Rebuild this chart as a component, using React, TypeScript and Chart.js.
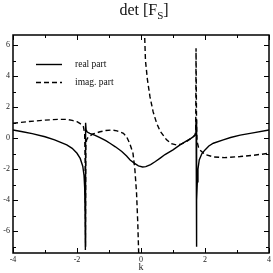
import React, { useEffect, useRef } from 'react';
import { Chart, registerables } from 'chart.js';
Chart.register(...registerables);

const realK = [-4.0, -3.7, -3.4, -3.0, -2.7, -2.32, -2.15, -2.0, -1.9, -1.82, -1.78, -1.76, -1.745, -1.735,
  -1.728, -1.715, -1.68, -1.6, -1.45, -1.3, -1.1, -0.97, -0.8, -0.6, -0.45, -0.34, -0.2, -0.08, 0.05, 0.15,
  0.3, 0.45, 0.6, 0.75, 1.0, 1.22, 1.4, 1.55, 1.65, 1.7, 1.715, 1.722, 1.73, 1.745, 1.76, 1.78, 1.82, 1.9,
  2.0, 2.12, 2.26, 2.57, 2.8, 3.1, 3.5, 4.0];
const realV = [0.53, 0.42, 0.3, 0.1, -0.1, -0.43, -0.65, -0.97, -1.3, -1.8, -2.4, -3.2, -4.8, -7.0,
  1.0, 0.55, 0.4, 0.32, 0.2, 0.05, -0.15, -0.32, -0.55, -0.85, -1.15, -1.4, -1.62, -1.78, -1.85, -1.83,
  -1.7, -1.5, -1.28, -1.05, -0.75, -0.43, -0.2, -0.02, 0.12, 0.25, 0.6, 1.2, -7.0, -4.0, -2.8, -2.0, -1.4, -1.0,
  -0.75, -0.5, -0.32, -0.1, 0.05, 0.2, 0.35, 0.53];

const imagK = [-4.0, -3.5, -3.0, -2.6, -2.32, -2.15, -2.0, -1.9, -1.8, -1.76, -1.745, -1.738,
  -1.725, -1.7, -1.65, -1.5, -1.28, -1.1, -0.92, -0.75, -0.55, -0.45, -0.35, -0.25, -0.19, -0.14, -0.1, -0.07,
  0.0,
  0.1, 0.14, 0.2, 0.28, 0.38, 0.49, 0.6, 0.8, 0.95, 1.1, 1.25, 1.43, 1.6, 1.69, 1.71, 1.72, 1.735, 1.75, 1.8,
  1.84, 2.0, 2.26, 2.6, 3.1, 3.5, 4.0];
const imagV: (number | null)[] = [0.97, 1.08, 1.17, 1.22, 1.22, 1.15, 1.07, 0.95, 0.75, 0.3, -1.5, -7.2,
  -0.5, -0.1, 0.08, 0.28, 0.42, 0.5, 0.53, 0.48, 0.32, 0.1, -0.35, -0.97, -2.05, -3.5, -5.5, -7.6,
  null,
  7.5, 5.0, 3.8, 2.68, 1.7, 0.97, 0.45, -0.1, -0.35, -0.43, -0.38, -0.2, 0.05, 0.2, 0.6, 5.8, 1.0, -0.2, -0.6,
  -0.75, -1.05, -1.2, -1.25, -1.18, -1.1, -0.97];

const xTickLabels = [-4, -2, 0, 2, 4];
const yTickLabels = [-6, -4, -2, 0, 2, 4, 6];
const xMinorTicks = [-4, -3, -2, -1, 0, 1, 2, 3, 4];
const yMinorTicks = [-7, -6, -5, -4, -3, -2, -1, 0, 1, 2, 3, 4, 5, 6];

const framePlugin = {
  id: 'frame',
  afterDatasetsDraw(chart: any) {
    const { ctx, chartArea } = chart;
    const { left, right, top, bottom } = chartArea;
    const xs = chart.scales.x;
    const ys = chart.scales.y;
    ctx.save();
    ctx.strokeStyle = '#000';
    ctx.lineWidth = 1;
    ctx.beginPath();
    for (const v of xMinorTicks) {
      const px = Math.round(xs.getPixelForValue(v)) + 0.5;
      const len = xTickLabels.includes(v) ? 5 : 3;
      ctx.moveTo(px, bottom); ctx.lineTo(px, bottom - len);
      ctx.moveTo(px, top); ctx.lineTo(px, top + len);
    }
    for (const v of yMinorTicks) {
      const py = Math.round(ys.getPixelForValue(v)) + 0.5;
      const len = yTickLabels.includes(v) ? 5 : 3;
      ctx.moveTo(left, py); ctx.lineTo(left + len, py);
      ctx.moveTo(right, py); ctx.lineTo(right - len, py);
    }
    ctx.stroke();
    ctx.lineWidth = 1.5;
    ctx.strokeRect(left, top, right - left, bottom - top);
    ctx.restore();
  },
};

export default function App() {
  const ref = useRef<HTMLCanvasElement>(null);
  useEffect(() => {
    if (!ref.current) return;
    const chart = new Chart(ref.current, {
      type: 'line',
      data: {
        datasets: [
          {
            label: 'real part',
            data: realK.map((k, i) => ({ x: k, y: realV[i] })),
            borderColor: '#000',
            borderWidth: 1.4,
            pointRadius: 0,
            tension: 0,
            spanGaps: false,
          },
          {
            label: 'imag. part',
            data: imagK.map((k, i) => ({ x: k, y: imagV[i] as any })),
            borderColor: '#000',
            borderWidth: 1.4,
            borderDash: [5, 3],
            pointRadius: 0,
            tension: 0,
            spanGaps: false,
          },
        ],
      },
      options: {
        responsive: false,
        animation: false,
        layout: { padding: { top: 35, right: 4, left: 0, bottom: 0 } },
        plugins: { legend: { display: false }, tooltip: { enabled: false }, title: { display: false } },
        scales: {
          x: {
            type: 'linear',
            min: -4,
            max: 4,
            grid: { display: false, drawTicks: false },
            border: { display: false },
            afterBuildTicks: (s: any) => { s.ticks = xTickLabels.map((v) => ({ value: v })); },
            afterFit: (s: any) => { s.height = 20; },
            ticks: { padding: 2, color: '#222', font: { family: 'Liberation Serif', size: 8 }, maxRotation: 0, callback: (v: any) => String(v) },
            title: { display: true, text: 'k', color: '#222', padding: { top: 0, bottom: 0 }, font: { family: 'Liberation Serif', size: 10 } },
          },
          y: {
            type: 'linear',
            min: -7.4,
            max: 6.66,
            grid: { display: false, drawTicks: false },
            border: { display: false },
            afterBuildTicks: (s: any) => { s.ticks = yTickLabels.map((v) => ({ value: v })); },
            afterFit: (s: any) => { s.width = 13; },
            ticks: { padding: 3, color: '#222', font: { family: 'Liberation Serif', size: 8 }, callback: (v: any) => String(v) },
          },
        },
      },
      plugins: [framePlugin],
    });
    return () => chart.destroy();
  }, []);

  const serif = '"Liberation Serif", serif';
  return (
    <div style={{ position: 'absolute', left: 0, top: 0, width: 273, height: 273, background: '#fff' }}>
      <canvas ref={ref} width={273} height={273} style={{ display: 'block', width: 273, height: 273 }} />
      <div style={{ position: 'absolute', left: 44, top: 1, width: 200, textAlign: 'center', fontFamily: serif, fontSize: 16, color: '#111', lineHeight: '18px' }}>
        det [F<sub style={{ fontSize: 11, verticalAlign: 'sub', lineHeight: 0 }}>S</sub>]
      </div>
      <svg style={{ position: 'absolute', left: 0, top: 0 }} width={273} height={273}>
        <line x1={36} y1={64.5} x2={62} y2={64.5} stroke="#000" strokeWidth={1.4} />
        <line x1={36} y1={82.5} x2={62} y2={82.5} stroke="#000" strokeWidth={1.4} strokeDasharray="5 3" />
      </svg>
      <div style={{ position: 'absolute', left: 75, top: 58, fontFamily: serif, fontSize: 9.5, color: '#111', lineHeight: '12px', whiteSpace: 'nowrap' }}>real part</div>
      <div style={{ position: 'absolute', left: 75, top: 76, fontFamily: serif, fontSize: 9.5, color: '#111', lineHeight: '12px', whiteSpace: 'nowrap' }}>imag. part</div>
    </div>
  );
}
